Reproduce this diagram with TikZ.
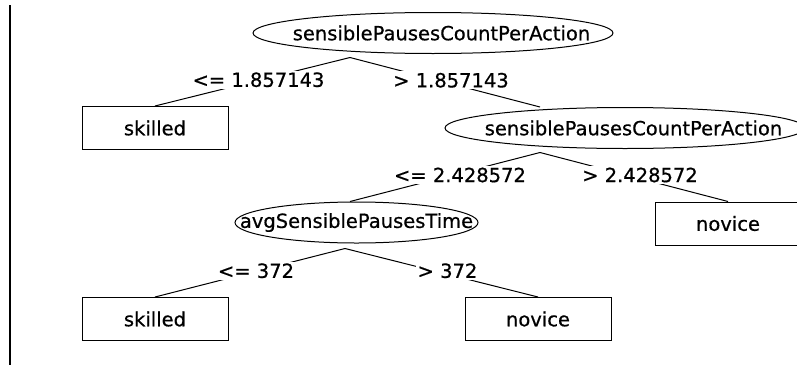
\documentclass[tikz,border=0pt]{standalone}
\usepackage{fontspec}
\setmainfont{DejaVu Sans}[FakeBold=0.6]
\usetikzlibrary{shapes.geometric}
\newcommand{\flattext}[1]{\makebox[0pt]{#1}}

\begin{document}
\begin{tikzpicture}[x=1pt,y=-1pt,line width=1pt,
                    every node/.style={font=\fontsize{19.5}{22}\selectfont},
                    split/.style={ellipse,draw,minimum height=41pt,inner sep=0pt},
                    leaf/.style={rectangle,draw,minimum width=146pt,minimum height=43pt},
                    cond/.style={fill=white,inner sep=1.5pt,xshift=6pt,yshift=2pt}]
\useasboundingbox (0,0) rectangle (797,367);
\fill[white] (0,0) rectangle (797,367);
\draw[line width=1.5pt] (10,5) -- (10,365);

\node[split,minimum width=360pt] (root) at (433,33) {\flattext{\hspace*{17pt}sensiblePausesCountPerAction}};
\node[split,minimum width=360pt] (second) at (625,128) {\flattext{\hspace*{17pt}sensiblePausesCountPerAction}};
\node[split,minimum width=243pt] (avgtime) at (356.5,222.5) {\flattext{avgSensiblePausesTime}};
\node[leaf] (skilledA) at (155,128) {skilled};
\node[leaf] (noviceA) at (728,223.5) {novice};
\node[leaf] (skilledB) at (155,319) {skilled};
\node[leaf] (noviceB) at (538,319) {novice};

\draw ([xshift=-83pt,yshift=-3.5pt]root.south) -- node[cond] {<= 1.857143} (skilledA.north);
\draw ([xshift=-83pt,yshift=-3.5pt]root.south) -- node[cond] {> 1.857143} ([xshift=-85pt]second.north);
\draw ([xshift=-85pt,yshift=-3.5pt]second.south) -- node[cond,xshift=9pt] {<= 2.428572} ([xshift=-6.5pt]avgtime.north);
\draw ([xshift=-85pt,yshift=-3.5pt]second.south) -- node[cond] {> 2.428572} (noviceA.north);
\draw ([xshift=-11.5pt,yshift=-5pt]avgtime.south) -- node[cond] {<= 372} (skilledB.north);
\draw ([xshift=-11.5pt,yshift=-5pt]avgtime.south) -- node[cond] {> 372} (noviceB.north);
\end{tikzpicture}
\end{document}
